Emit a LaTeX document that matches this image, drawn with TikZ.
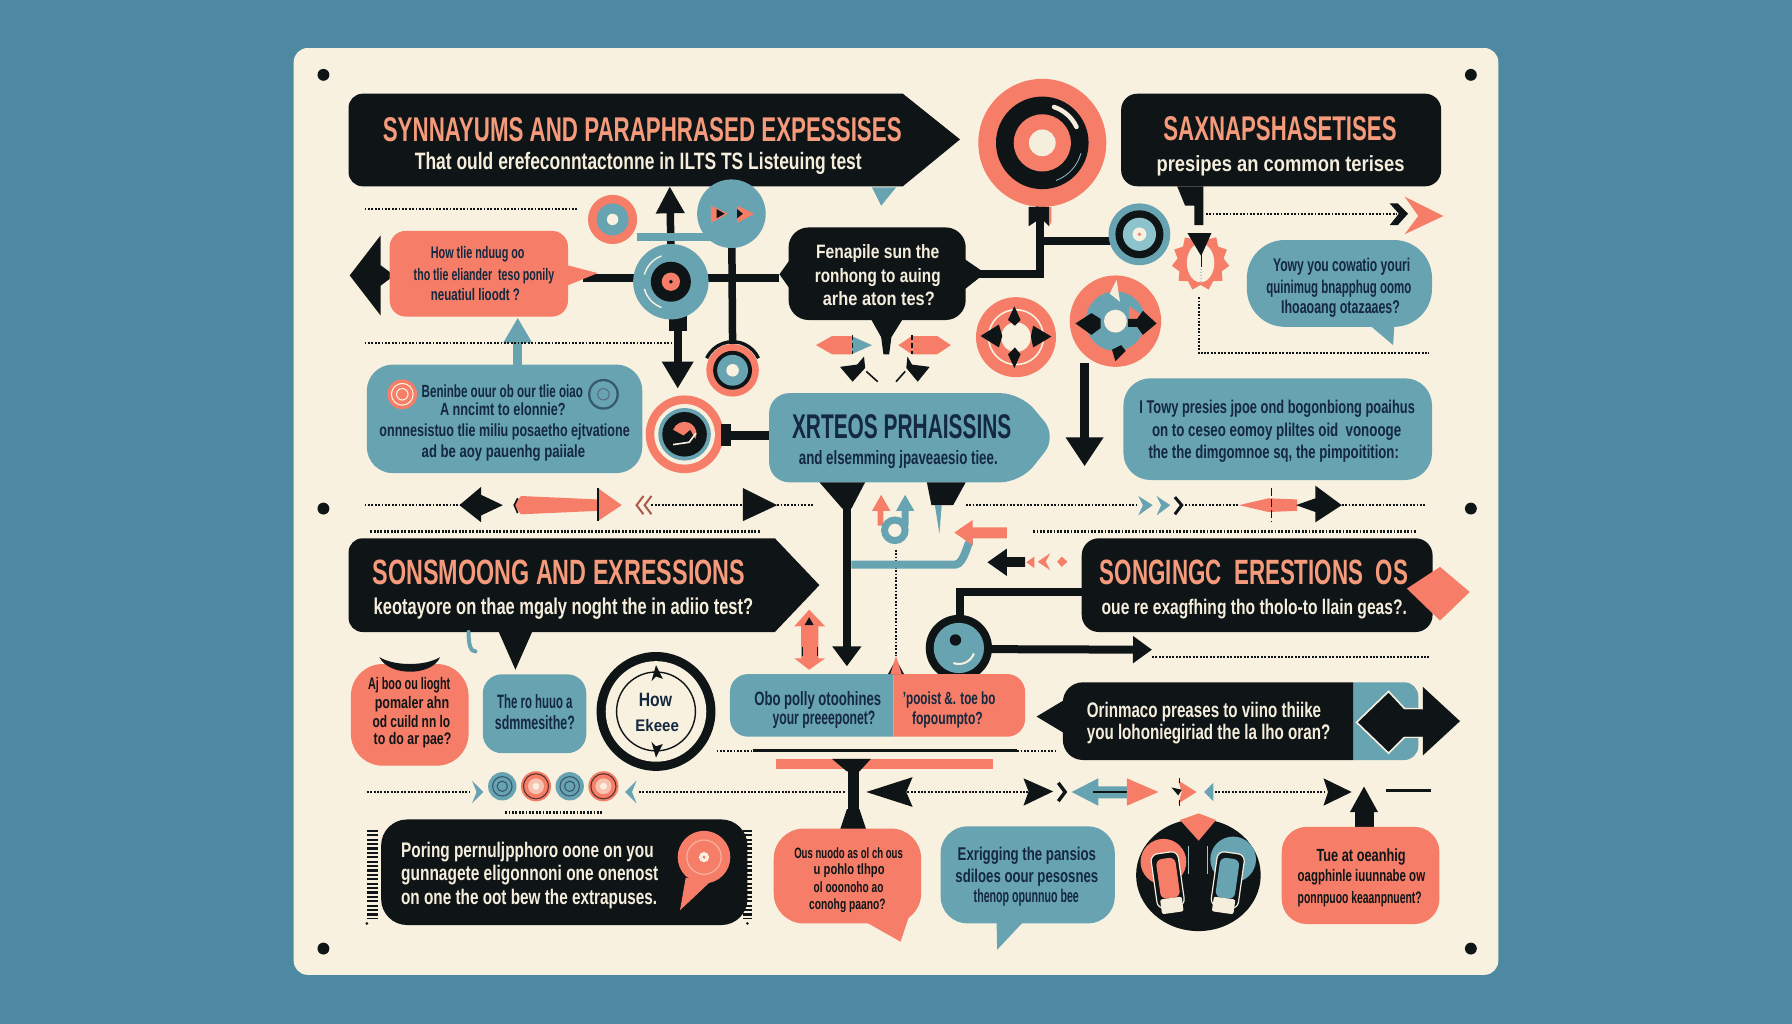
\documentclass[tikz,border=0pt]{standalone}
\usepackage{fontspec}
\usepackage{graphicx}
\setmainfont{Liberation Sans}
\usetikzlibrary{arrows.meta,shapes.geometric,calc}
\definecolor{bgblue}{HTML}{4E89A2}
\definecolor{panel}{HTML}{F8F1E0}
\definecolor{coral}{HTML}{F67D68}
\definecolor{tealb}{HTML}{68A3B2}
\definecolor{ink}{HTML}{0F1517}
\definecolor{navy}{HTML}{14283F}
\definecolor{titlec}{HTML}{F59B7C}
\definecolor{creamt}{HTML}{F5EEDC}
\definecolor{lteal}{HTML}{8CC3CC}
\pgfdeclarelayer{under}
\pgfdeclarelayer{conn}
\pgfsetlayers{under,conn,main}
\newdimen\unitpx \unitpx=1.142857pt
\tikzset{
  boxn/.style={inner sep=0pt,outer sep=0pt,draw=none},
  lblt/.style={inner sep=0pt,outer sep=0pt,anchor=center},
  dotl/.style={draw=ink,line width=2.4pt,dash pattern=on 1.9pt off 1.5pt},
  link/.style={draw=ink,line width=8pt},
  tlink/.style={draw=tealb,line width=8pt},
}
% name x1 y1 x2 y2 fill radius
\newcommand\bx[7]{\node[boxn,fill=#6,rounded corners=#7pt,minimum width={(#4-#2)*1.142857pt},minimum height={(#5-#3)*1.142857pt}] (#1) at ({(#2+#4)/2},{(#3+#5)/2}) {};}
% name x y r fill
\newcommand\cir[5]{\node[boxn,circle,fill=#5,minimum size={2*#4*1.142857pt}] (#1) at (#2,#3) {};}
\newcommand\dsk[4]{\fill[#4] (#1,#2) circle[radius=#3];}
% name x1 x2 y capheight colour text
\newcommand\lbl[7]{\node[lblt,text=#6] (#1) at ({(#2+#3)/2},#4) {\resizebox*{\dimexpr #3\unitpx-#2\unitpx\relax}{1.8\dimexpr #5\unitpx\relax}{\rule[-2.2pt]{0pt}{11.7pt}\bfseries #7}};}
\newcommand\dotln[5]{\coordinate (#1a) at (#2,#3); \coordinate (#1b) at (#4,#5); \draw[dotl] (#1a) -- (#1b);}
% x y r start end style
\newcommand\rarc[6]{\draw[#6] (#1,#2) ++(#4:#3) arc[start angle=#4,end angle=#5,radius=#3];}
\begin{document}
\begin{tikzpicture}[x=1.142857pt,y=-1.142857pt]
\useasboundingbox (0,0) rectangle (1568,896);
\begin{pgfonlayer}{under}
\fill[bgblue] (0,0) rectangle (1568,896);
\fill[panel,rounded corners=14pt] (257,42) rectangle (1311,853);
\end{pgfonlayer}

% corner dots
\cir{p1}{283}{65.5}{5.2}{ink}\cir{p2}{1287}{65.5}{5.2}{ink}
\cir{p3}{283}{445}{5.2}{ink}\cir{p4}{1287}{445}{5.2}{ink}
\cir{p5}{283}{830}{5.2}{ink}\cir{p6}{1287}{830}{5.2}{ink}

%%% dotted rules
\dotln{da}{319}{183}{506}{183}
\dotln{db}{319}{300}{587}{300}
\dotln{dc}{1055}{187}{1222}{187}
\dotln{dd}{319}{442}{403}{442}
\dotln{de}{570}{442}{650}{442}
\dotln{df}{680}{442}{711}{442}
\dotln{dg}{845}{442}{995}{442}
\dotln{dh}{1037}{442}{1084}{442}
\dotln{di}{1174}{442}{1248}{442}
\dotln{dj}{324}{465}{665}{465}
\dotln{dk}{904}{465}{1240}{465}
\dotln{dl}{1008}{575}{1251}{575}
\dotln{dm}{627}{657}{659}{657}
\dotln{dn}{890}{657}{923}{657}
\dotln{dp}{321}{693}{411}{693}
\dotln{dq}{559}{693}{739}{693}
\dotln{dr}{794}{693}{900}{693}
\dotln{ds}{1063}{693}{1159}{693}
\dotln{dt}{442}{711}{527}{711}
\draw[dotl] (1049,260) -- (1049,309) -- (1250,309);
\draw[dotl] (784,481) -- (784,574);
\coordinate (sa) at (659,657); \coordinate (sb) at (890,657);
\draw[ink,line width=3pt] (sa) -- (sb);

%%% title 1
\fill[ink] (500,82) -- (790,82) -- (840,122) -- (790,163) [rounded corners=14pt] -- (305,163) -- (305,82) [sharp corners] -- (500,82) -- cycle;
\fill[tealb] (763,164) -- (784,164) -- (771,180) -- cycle;
\lbl{t1a}{335}{789}{113}{19.5}{titlec}{SYNNAYUMS AND PARAPHRASED EXPESSISES}
\lbl{t1b}{363}{754}{141}{13.5}{creamt}{That ould erefeconntactonne in ILTS TS Listeuing test}
\coordinate (t1v) at (640,163); \coordinate (t1u) at (586,163);

%%% title 2
\bx{t2}{981}{82}{1261}{163}{ink}{16}
\fill[ink] (1030,163) -- (1053,163) -- (1053,197) -- (1045,197) -- (1045,180) -- (1037,180) -- cycle;
\lbl{t2a}{1018}{1222}{112}{19.5}{titlec}{SAXNAPSHASETISES}
\lbl{t2b}{1012}{1229}{143}{12.5}{creamt}{presipes an common terises}
\fill[ink] (1216,178) -- (1223,178) -- (1232,187) -- (1223,197) -- (1216,197) -- (1224,187) -- cycle;
\fill[coral] (1229,172) -- (1263,189) -- (1229,205) -- (1241,189) -- cycle;

%%% big circle
\cir{big}{912}{125}{56}{coral}
\dsk{912}{125}{40.5}{ink}\dsk{912}{125}{25}{coral}\dsk{912}{125}{11.7}{creamt}
\rarc{912}{125}{33}{-72}{-25}{creamt,line width=4.5pt,line cap=round}
\rarc{912}{125}{35}{15}{70}{lteal,line width=.8pt}
\coordinate (bigs) at (910,178);
\fill[ink] (900,181) -- (918,181) -- (918,198) -- (914,194) -- (906,194) -- (900,198) -- cycle;
\fill[coral] (918,181) -- (920,181) -- (920,194) -- (918,198) -- cycle;

%%% circle 2
\cir{cb}{997}{205}{27}{tealb}
\dsk{997}{205}{21}{ink}\dsk{997}{205}{14.5}{lteal}\dsk{997}{205}{6}{panel}\dsk{997}{205}{1.6}{coral}

%%% gear
\node[boxn,star,star points=11,star point ratio=1.25,fill=coral,minimum size=58pt] (gear) at (1050.5,229) {};
\fill[panel] (1050.5,230) ellipse[x radius=12,y radius=17];
\fill[ink] (1039,204) -- (1060,204) -- (1051,224) -- cycle;
\draw[ink,line width=1pt] (1051,222) -- (1051,234);
\draw[tealb!50!panel,line width=1.4pt,dash pattern=on 1.5pt off 1.5pt] (1051,235) -- (1051,247);

%%% teal speech bubble
\bx{bq}{1091}{210}{1253}{286}{tealb}{38}
\fill[tealb] (1199,285) -- (1220,285) -- (1219,302) -- cycle;
\lbl{bq1}{1114}{1234}{232}{10.5}{navy}{Yowy you cowatio youri}
\lbl{bq2}{1108}{1235}{251}{10.5}{navy}{quinimug bnapphug oomo}
\lbl{bq3}{1121}{1225}{268}{10.5}{navy}{Ihoaoang otazaaes?}

%%% teal box right
\bx{br}{983}{331}{1253}{420}{tealb}{27}
\lbl{br1}{997}{1238}{356}{10.5}{navy}{I Towy presies jpoe ond bogonbiong poaihus}
\lbl{br2}{1008}{1226}{376}{10.5}{navy}{on to ceseo eomoy pliltes oid \ vonooge}
\lbl{br3}{1005}{1224}{395}{10.5}{navy}{the the dimgomnoe sq, the pimpoitition:}

%%% circles 3 and 4
\cir{cc}{889}{295}{35}{coral}
\draw[panel,line width=1.6pt] (889,295) circle[radius=24];
\dsk{889}{295}{13}{panel}
\fill[ink] (887.6,268) -- (893,280) -- (888,285) -- (882,280) -- cycle;
\fill[ink] (887.6,322) -- (893,310) -- (888,304) -- (882,310) -- cycle;
\fill[ink] (858,294) -- (874,284) -- (877,294) -- (874,304) -- cycle;
\fill[ink] (920,294.5) -- (904,285) -- (902,294.5) -- (904,304) -- cycle;

\cir{cd}{976}{281}{40}{coral}
\dsk{976}{281}{26}{tealb}\dsk{976}{281}{10}{panel}
\fill[coral] (988,268) -- (1003,278) -- (988,285) -- cycle;
\fill[creamt] (977,245) -- (971,257) -- (980,264) -- cycle;
\fill[ink] (941,283) -- (955,274) -- (963,279) -- (963,287) -- (955,293) -- cycle;
\fill[ink] (987,279) -- (995,279) -- (1000,272) -- (1012,283) -- (1000,293) -- (995,286) -- (987,286) -- cycle;
\fill[ink] (973,306) -- (981,302) -- (985,307) -- (976,316) -- cycle;

%%% small circles top left
\cir{ca}{536}{192}{21.5}{coral}
\dsk{536}{192}{14}{tealb}\dsk{536}{192}{5}{panel}
\cir{cbb}{640}{187}{30}{tealb}
\fill[coral] (622,180) -- (637,187) -- (622,195) -- cycle;
\fill[ink] (627,183) -- (634,187) -- (627,191) -- cycle;
\fill[coral] (645,180) -- (660,187) -- (645,195) -- cycle;
\fill[ink] (645,183) -- (650,187) -- (645,191) -- cycle;

%%% hub circle
\cir{hub}{587}{246.5}{33}{tealb}
\rarc{587}{246.5}{24}{195}{250}{panel,line width=1.4pt}
\rarc{587}{246.5}{24}{110}{165}{panel,line width=1.4pt}
\dsk{587}{246.5}{17.5}{ink}\dsk{587}{246.5}{8}{coral}\dsk{587}{246.5}{1.7}{ink}

%%% coral bubble top left
\fill[ink] (333,206) -- (306,241) -- (333,276) -- (333,250) -- (345,241) -- (333,232) -- cycle;
\bx{bl}{341}{202}{497}{277}{coral}{16}
\fill[coral] (496,232) -- (523,239) -- (496,250) -- cycle;
\lbl{bl1}{377}{459}{221}{9.5}{navy}{How tlie nduug oo}
\lbl{bl2}{362}{485}{240}{9.5}{navy}{tho tlie eliander \ teso ponily}
\lbl{bl3}{377}{455}{258}{9.5}{navy}{neuatiul lioodt ?}

%%% dark bubble
\fill[ink] (682,240) -- (692,226) -- (692,254) -- cycle;
\fill[ink] (862,239) -- (843,226) -- (843,254) -- cycle;
\bx{bd}{690}{199}{845}{280}{ink}{20}
\fill[ink] (762,279) -- (790,279) -- (780,295) -- (778,310) -- (773,310) -- (771,295) -- cycle;
\lbl{bd1}{714}{822}{220}{11}{creamt}{Fenapile sun the}
\lbl{bd2}{713}{823}{241}{11}{creamt}{ronhong to auing}
\lbl{bd3}{720}{818}{261}{11}{creamt}{arhe aton tes?}
% small arrows below dark bubble
\fill[coral] (714,302) -- (728,294) -- (745,294) -- (745,310) -- (728,310) -- cycle;
\fill[tealb] (745,294) -- (763,302) -- (745,310) -- cycle;
\fill[coral] (786,302) -- (798,294) -- (820,294) -- (832,302) -- (820,310) -- (798,310) -- cycle;
\draw[ink,line width=1.6pt,dash pattern=on 5pt off 3pt] (746,293) -- (746,310);
\draw[ink,line width=1.6pt,dash pattern=on 5pt off 3pt] (798,293) -- (798,310);
\fill[ink] (735,321) -- (750,319) -- (756,312) -- (757,322) -- (746,334) -- cycle;
\draw[ink,line width=1.6pt] (758,325) -- (768,334);
\fill[ink] (813.5,321) -- (798,319) -- (794,312) -- (793,322) -- (803,334) -- cycle;
\draw[ink,line width=1.6pt] (792,325) -- (784,334);

%%% teal box left
\bx{bt}{321}{319}{562}{414}{tealb}{26}
\cir{bt1}{352}{345}{13}{coral}
\draw[panel,line width=1.1pt] (352,345) circle[radius=9.5];
\draw[panel,line width=1.1pt] (352,345) circle[radius=5];
\cir{bt2}{528}{345}{13.5}{navy!60!tealb}
\dsk{528}{345}{11.5}{tealb}\draw[navy!70,line width=1pt] (528,345) circle[radius=5];
\lbl{bt3}{369}{510}{342}{10}{navy}{Beninbe ouur ob our tlie oiao}
\lbl{bt4}{385}{495}{358}{10}{navy}{A nncimt to elonnie?}
\lbl{bt5}{332}{551}{376}{10}{navy}{onnnesistuo tlie miliu posaetho ejtvatione}
\lbl{bt6}{369}{512}{395}{10}{navy}{ad be aoy pauenhg paiiale}

%%% circle e
\cir{ce}{641}{324}{23}{coral}
\dsk{641}{324}{17}{ink}\dsk{641}{324}{13.5}{tealb}\dsk{641}{324}{5.5}{panel}
\rarc{641}{324}{25}{-155}{-25}{ink,line width=3.4pt}

%%% circle f
\cir{cf}{599}{380}{34}{coral}
\dsk{599}{380}{26.5}{panel}\dsk{599}{380}{23}{tealb}\dsk{599}{380}{19.5}{ink}
\fill[coral] (589,376) arc[start angle=200,end angle=385,radius=10.5] -- (604,376) -- (598,381) -- cycle;
\draw[panel,line width=1.6pt] (589,389) -- (603,387) -- (609,379);
\fill[ink] (631,371) -- (640,371) -- (640,390) -- (631,390) -- cycle;

%%% SRTEOS box
\fill[tealb,rounded corners=20pt] (673,344) -- (893,344) -- (925,382) -- (893,422) -- (673,422) -- cycle;
\coordinate (smid) at (673,381); \coordinate (cfe) at (640,381);
\lbl{s1}{693}{885}{373}{19.5}{navy}{XRTEOS PRHAISSINS}
\lbl{s2}{699}{873}{400}{11}{navy}{and elsemming jpaveaesio tiee.}
% funnels
\fill[ink] (717,422) -- (757,422) -- (745,445) -- (737,445) -- cycle;
\fill[ink] (811,422) -- (845,422) -- (834,442) -- (815,442) -- cycle;
\fill[tealb] (818,442) -- (824,442) -- (822,467) -- cycle;
% small arrows
\fill[coral] (771,433) -- (779,447) -- (773,447) -- (773,460) -- (768,460) -- (768,447) -- (763,447) -- cycle;
\fill[tealb] (792,433) -- (800,447) -- (795,447) -- (795,460) -- (789,460) -- (789,447) -- (784,447) -- cycle;
\draw[tealb,line width=7pt] (783,464) circle[radius=9];
\node[boxn,circle,minimum size=1pt] (ringt) at (783,464) {};
% right-hand arrow cluster
\coordinate (ty) at (745,494); \coordinate (tz) at (848,477);
\draw[tlink] (ty) -- (836,494) to[out=0,in=90] (tz);
\fill[coral] (835,466) -- (851,455) -- (851,461.5) -- (881,461.5) -- (881,471) -- (851,471) -- (851,477) -- cycle;
\fill[ink] (864,492) -- (881,480) -- (881,487.5) -- (897,487.5) -- (897,496) -- (881,496) -- (881,504) -- cycle;
\fill[coral] (905,487) -- (898,492) -- (905,497) -- cycle;
\fill[coral] (919,484) -- (908,491.5) -- (919,499) -- (915,491.5) -- cycle;
\fill[coral] (925,491.5) -- (929,487) -- (934,491.5) -- (929,496) -- cycle;

%%% row y=442 decorations
\fill[ink] (402,442) -- (421,426) -- (421,433) -- (440,442) -- (421,451) -- (421,457) -- cycle;
\fill[coral] (449,442) -- (456,434) -- (523,437) -- (523,427) -- (544,442) -- (523,456) -- (523,447) -- (456,450) -- cycle;
\draw[ink,line width=1.6pt] (523,427) -- (523,456);
\draw[ink,line width=1.6pt] (453,436) -- (450,442) -- (453,449);
\draw[coral!70!black,line width=2pt] (563,434) -- (557,442) -- (563,450);
\draw[coral!70!black,line width=2pt] (570,434) -- (564,442) -- (570,450);
\fill[ink] (650,427) -- (680,442) -- (650,456) -- cycle;
\fill[tealb] (996,434) -- (1008.6,442) -- (996,451) -- (1000,442) -- cycle;
\fill[tealb] (1012,434) -- (1024,442) -- (1012,451) -- (1016,442) -- cycle;
\draw[ink,line width=3pt] (1028,435) -- (1034,442) -- (1028,450);
\fill[coral] (1084,442) -- (1110,436) -- (1135,437) -- (1135,447) -- (1110,448) -- cycle;
\draw[ink,line width=1.6pt,dash pattern=on 8pt off 3pt] (1112.7,427) -- (1112.7,456);
\fill[ink] (1134,442) -- (1151,436) -- (1151,425) -- (1174,442) -- (1151,457) -- (1151,448) -- cycle;

%%% title 3
\fill[ink] (500,471) -- (678,471) -- (717,512) -- (678,553) [rounded corners=14pt] -- (305,553) -- (305,471) [sharp corners] -- (500,471) -- cycle;
\draw[tealb,line width=4pt,line cap=round] (410,553) .. controls (410,565) and (412,570) .. (416,570);
\fill[ink] (436,552) -- (466,552) -- (451,586) -- cycle;
\lbl{t3a}{326}{652}{500}{20}{titlec}{SONSMOONG AND EXRESSIONS}
\lbl{t3b}{327}{659}{530}{13}{creamt}{keotayore on thae mgaly noght the in adiio test?}

%%% coral double arrow
\fill[coral] (708,533.5) -- (722,548) -- (716,548) -- (716,576) -- (722,576) -- (708,586) -- (695,576) -- (701,576) -- (701,548) -- (695,548) -- cycle;
\fill[ink] (708,540) -- (712,547) -- (704,547) -- cycle;
\draw[ink,line width=1pt] (702,566) -- (702,574); \draw[ink,line width=1pt] (715,566) -- (715,574);

%%% title 4
\bx{t4}{946.5}{471}{1253.5}{553}{ink}{17}
\coordinate (t4w) at (946.5,518);
\fill[coral] (1231,515) -- (1260,496) -- (1286,518) -- (1260,543) -- cycle;
\lbl{t4a}{962.5}{1232}{500}{20}{titlec}{SONGINGC \ ERESTIONS \ OS}
\lbl{t4b}{964}{1231}{531}{12}{creamt}{oue re exagfhing tho tholo-to llain geas?.}

%%% circle g
\cir{cg}{839}{567}{29}{ink}
\dsk{839}{567}{22}{tealb}
\rarc{839}{567}{14}{20}{110}{panel,line width=2pt}
\dsk{836}{560}{5}{ink}
\coordinate (gv) at (840,560); \coordinate (gr) at (866,568); \coordinate (gt) at (1008,568.5);

%%% left bottom row boxes
\bx{e1}{307}{581}{410}{670}{coral}{32}
\fill[ink] (332,575) .. controls (345,583) and (372,583) .. (385,575) .. controls (378,592) and (340,592) .. (332,575) -- cycle;
\lbl{e1a}{322}{394}{598}{9.5}{ink}{Aj boo ou lioght}
\lbl{e1b}{328}{393}{615}{9.5}{ink}{pomaler ahn}
\lbl{e1c}{326}{394}{631}{9.5}{ink}{od cuild nn lo}
\lbl{e1d}{327}{395}{646}{9.5}{ink}{to do ar pae?}

\bx{e2}{422.5}{590}{513}{659}{tealb}{19}
\lbl{e2a}{435}{501}{614}{11}{navy}{The ro huuo a}
\lbl{e2b}{433}{503}{632}{11}{navy}{sdmmesithe?}

\cir{e3}{574}{622.5}{52}{ink}
\dsk{574}{622.5}{44}{panel}
\draw[ink,line width=1.4pt] (574,622.5) circle[radius=34.5];
\fill[ink] (574,582) -- (580,594) -- (574,592) -- (570,596) -- cycle;
\fill[ink] (574,663) -- (580,651) -- (574,653) -- (570,649) -- cycle;
\lbl{e3a}{559}{588}{612}{11}{navy}{How}
\lbl{e3b}{556}{594}{635}{9.5}{navy}{Ekeee}

%%% split box
\fill[tealb] (781.6,589.8) [rounded corners=18pt] -- (638.7,589.8) -- (638.7,644.6) [sharp corners] -- (781.6,644.6) -- cycle;
\fill[coral] (781.6,589.8) [rounded corners=18pt] -- (897,589.8) -- (897,644.6) [sharp corners] -- (781.6,644.6) -- cycle;
\coordinate (split) at (741,590);
\fill[ink] (777,589.8) -- (784,577) -- (791,589.8) -- cycle;
\fill[coral] (779,589.8) -- (784,574) -- (789,589.8) -- cycle;
\lbl{sp1}{660}{771}{611}{11}{navy}{Obo polly otoohines}
\lbl{sp2}{676}{766}{628}{11}{navy}{your preeeponet?}
\lbl{sp3}{790}{871}{611}{10}{navy}{'pooist \&. toe bo}
\lbl{sp4}{798}{860}{628}{10}{navy}{fopoumpto?}

%%% dark pill
\fill[tealb] (1184,597) [rounded corners=14pt] -- (1241,597) -- (1241,665) [sharp corners] -- (1184,665) -- cycle;
\fill[ink] (1184,597) [rounded corners=20pt] -- (930,597) -- (930,665) [sharp corners] -- (1184,665) -- cycle;
\fill[ink] (907,627) -- (932,612) -- (932,642) -- cycle;
\fill[ink,draw=panel,line width=1.6pt] (1187,632) -- (1215,605) -- (1229,620) -- (1245,620) -- (1245,645) -- (1229,645) -- (1215,659) -- cycle;
\fill[ink] (1228,621) -- (1245,621) -- (1245,601) -- (1277.5,631) -- (1245,661) -- (1245,644.5) -- (1228,644.5) -- cycle;
\lbl{pl1}{951}{1156}{621}{12}{creamt}{Orinmaco preases to viino thiike}
\lbl{pl2}{951}{1164}{640}{12}{creamt}{you lohoniegiriad the la lho oran?}

%%% coral bar and T
\bx{bar}{678.6}{664}{868.6}{673}{coral}{0}
\fill[ink] (728,664) -- (762,664) -- (752,675) -- (741,675) -- cycle;
\fill[ink] (741,708) -- (752,708) -- (758,726) -- (735,726) -- cycle;

%%% row y=693
\fill[tealb] (413,683) -- (423,693) -- (413,703) -- (417,693) -- cycle;
\cir{o1}{439.5}{688}{12.4}{tealb}
\draw[navy!60!tealb,line width=1.1pt] (439.5,688) circle[radius=8.5];
\draw[navy!60!tealb,line width=1.1pt] (439.5,688) circle[radius=4.5];
\cir{o2}{469}{688}{13.2}{coral}
\draw[ink!70!coral,line width=1.1pt] (469,688) circle[radius=11];
\dsk{469}{688}{7}{panel!60!coral}\dsk{469}{688}{3}{panel}
\cir{o3}{498.5}{688}{12.4}{tealb}
\draw[navy!60!tealb,line width=1.1pt] (498.5,688) circle[radius=8.5];
\draw[navy!60!tealb,line width=1.1pt] (498.5,688) circle[radius=4.5];
\cir{o4}{528}{688}{13.2}{coral}
\draw[ink!70!coral,line width=1.1pt] (528,688) circle[radius=11];
\dsk{528}{688}{7}{panel!60!coral}\dsk{528}{688}{3}{panel}
\fill[tealb] (557,683) -- (547,693) -- (557,703) -- (553,693) -- cycle;
\fill[ink] (758,693) -- (798.5,680) -- (793,693) -- (798.5,706) -- cycle;
\fill[ink] (895.5,681) -- (921.5,692.5) -- (895.5,705) -- (900,692.5) -- cycle;
\draw[ink,line width=3.4pt] (926,685) -- (932,693) -- (926,701);
\fill[tealb] (937.7,693) -- (961,681) -- (961,688) -- (986,688) -- (986,698.5) -- (961,698.5) -- (961,705) -- cycle;
\draw[ink,line width=1.8pt] (956,693) -- (988,693);
\fill[coral] (986,681) -- (1013.6,693) -- (986,705) -- cycle;
\fill[coral] (1031,683) -- (1047,693) -- (1031,703) -- (1034,693) -- cycle;
\fill[ink] (1025,689) -- (1034,691) -- (1031,696) -- cycle;
\draw[ink,line width=1.4pt] (1032,681) -- (1032,685); \draw[ink,line width=1.4pt] (1032,700) -- (1032,705);
\fill[tealb] (1061.7,685) -- (1053.5,693) -- (1061.7,701) -- cycle;
\fill[ink] (1158,681) -- (1182.7,693) -- (1158,705) -- (1162,693) -- cycle;
\draw[ink,line width=2.8pt] (1213,692) -- (1252,692);
\coordinate (dashA) at (1213,692);

%%% black pill
\bx{pl}{333.5}{717}{654}{809.4}{ink}{26}
\draw[ink,line width=11pt,dash pattern=on 2.2pt off 2.2pt] (326,726) -- (326,804);
\draw[ink,line width=9pt,dash pattern=on 2.2pt off 2.2pt] (654,726) -- (654,804);
\fill[ink] (321,808) circle[radius=1.3] (654,808) circle[radius=1.3];
\fill[coral] (600,768) -- (595,796.5) -- (621,772) -- cycle;
\cir{pc}{616}{750}{23}{coral}
\draw[panel!50!coral,line width=1.1pt] (616,750) circle[radius=15];
\dsk{616}{750}{4.5}{panel}\dsk{616}{750}{1.4}{coral}
\lbl{pla}{351}{572}{744}{12}{creamt}{Poring pernuljpphoro oone on you}
\lbl{plb}{351}{576}{764}{12}{creamt}{gunnagete eligonnoni one onenost}
\lbl{plc}{351}{575}{785}{12}{creamt}{on one the oot bew the extrapuses.}

%%% coral bubble bottom
\bx{bb}{677}{725}{806}{808}{coral}{30}
\fill[coral] (758,807) -- (796,800) -- (788,824) -- cycle;
\lbl{bb1}{695}{790}{746}{8.5}{ink}{Ous nuodo as ol ch ous}
\lbl{bb2}{712}{774}{760.5}{8.5}{ink}{u pohlo tlhpo}
\lbl{bb3}{712}{773}{776}{8.5}{ink}{ol ooonoho ao}
\lbl{bb4}{708}{775}{791}{8.5}{ink}{conohg paano?}

%%% teal bubble bottom
\bx{bc}{823}{723}{975.5}{808}{tealb}{27}
\fill[tealb] (872,807) -- (895,807) -- (872.5,831) -- cycle;
\lbl{bc1}{838}{959}{747}{10.5}{navy}{Exrigging the pansios}
\lbl{bc2}{836}{961}{766}{10.5}{navy}{sdiloes oour pesosnes}
\lbl{bc3}{852}{944}{784}{10.5}{navy}{thenop opunnuo bee}

%%% headphones
\node[boxn,ellipse,fill=ink,minimum width=124.6pt,minimum height=112pt] (hp) at (1048.6,765.7) {};
\fill[coral] (1032.5,717.5) -- (1048.8,711.7) -- (1064,717.5) -- (1048.8,735.6) -- cycle;
\dsk{1018}{754}{20}{coral}
\dsk{1079}{752}{20}{tealb}
\begin{scope}[shift={(1022,772)},rotate=8]
\fill[ink,draw=creamt,line width=1.2pt,rounded corners=7pt] (-12,-26) rectangle (12,22);
\fill[coral,rounded corners=6pt] (-8,-21) rectangle (9,14);
\fill[creamt,rounded corners=2pt] (-9,14) rectangle (10,27);
\end{scope}
\begin{scope}[shift={(1074,772)},rotate=-8]
\fill[ink,draw=creamt,line width=1.2pt,rounded corners=7pt] (-12,-26) rectangle (12,22);
\fill[tealb,rounded corners=6pt] (-9,-21) rectangle (8,14);
\fill[creamt,rounded corners=2pt] (-10,14) rectangle (9,27);
\end{scope}
\draw[tealb!60!panel,line width=.7pt] (1040,740) -- (1040,765);
\draw[tealb!60!panel,line width=.7pt] (1056,740) -- (1056,765);

%%% coral box bottom right
\bx{bz}{1121.5}{723.5}{1259.5}{808.5}{coral}{25}
\coordinate (bzup) at (1193.5,687.8);
\lbl{bz1}{1152}{1230}{748}{10}{ink}{Tue at oeanhig}
\lbl{bz2}{1135.5}{1247}{766}{9.5}{ink}{oagphinle iuunnabe ow}
\lbl{bz3}{1135.5}{1244}{785}{9.5}{ink}{ponnpuoo keaanpnuent?}

%%% connectors, under everything
\begin{pgfonlayer}{conn}
\draw[link,line width=7.5pt] (t1v) -- (ce.north);
\draw[link,line width=7.5pt,-{Triangle[width=27pt,length=27pt]}] (hub.north) -- (t1u);
\draw[tlink] (ca.east |- 0,207) -- (cbb.south |- 0,207);
\coordinate (hubs) at (593,276);
\coordinate (hubt) at (593,340);
\draw[link,line width=18pt] (hubs) -- (593,290);
\draw[link,-{Triangle[width=30pt,length=27pt]}] (hubs) -- (hubt);
\coordinate (blt) at (510,243.5);
\coordinate (bdl) at (682,243.5);
\draw[link] (blt) -- (bdl);
\draw[link] (bd.east) -| (bigs);
\coordinate (bigj) at (910,210.5);
\coordinate (cbw) at (975,210.5);
\draw[link] (bigj) -- (cbw);
\coordinate (armb) at (949,318);
\coordinate (armt) at (949,408);
\draw[link,line width=9pt,-{Triangle[width=36pt,length=29pt]}] (armb) -- (armt);
\coordinate (btup) at (453,278);
\draw[tlink,line width=9pt,-{Triangle[width=27pt,length=25pt]}] (bt.north -| btup) -- (btup);
\draw[link,line width=9pt] (cfe) -- (smid);
\coordinate (fa) at (741,443); \coordinate (fb) at (741,583);
\draw[link,-{Triangle[width=28pt,length=20pt]}] (fa) -- (fb);
\draw[link] (t4w) -- (840,518) -- (gv);
\draw[link,-{Triangle[width=26pt,length=19pt]}] (gr) -- (gt);
\coordinate (tstem) at (746.5,674); \coordinate (tend) at (746.5,710);
\draw[link,line width=11pt] (tstem) -- (tend);
\draw[link,line width=19pt,-{Triangle[width=26pt,length=26pt]}] (bz.north -| bzup) -- (bzup);
\end{pgfonlayer}
\end{tikzpicture}
\end{document}
